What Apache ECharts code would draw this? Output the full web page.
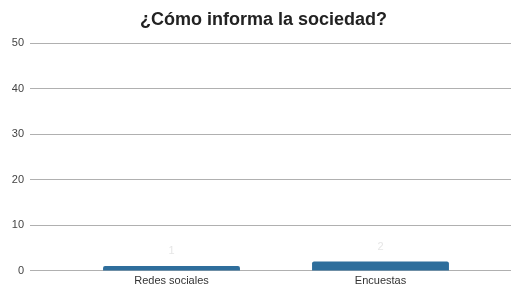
<!DOCTYPE html>
<html><head><meta charset="utf-8">
<script src="https://cdn.jsdelivr.net/npm/echarts@6/dist/echarts.min.js"></script>
<style>html,body{margin:0;padding:0;background:#fff}#c{width:511px;height:284px}</style>
</head><body><div id="c"></div>
<script>
const categories = ['Redes sociales', 'Encuestas'];
const values = [1, 2];
const yTicks = [0, 10, 20, 30, 40, 50];

const chart = echarts.init(document.getElementById('c'), null, {renderer: 'canvas'});
chart.setOption({
  animation: false,
  backgroundColor: '#fff',
  title: {
    text: '¿Cómo informa la sociedad?',
    left: 135, top: 6,
    textStyle: {fontFamily: 'Liberation Sans', fontSize: 18, fontWeight: 'bold', color: '#222'}
  },
  grid: [
    {left: 30, right: 0, top: 43, bottom: 13.5, outerBoundsMode: 'none', containLabel: false},
    {left: 67, right: 26, top: 43, bottom: 13.5, outerBoundsMode: 'none', containLabel: false}
  ],
  xAxis: [
    {gridIndex: 0, type: 'category', data: categories, show: false},
    {gridIndex: 1, type: 'category', data: categories,
     axisLine: {show: false}, axisTick: {show: false},
     axisLabel: {fontFamily: 'Liberation Sans', fontSize: 11, color: '#333', margin: 5}}
  ],
  yAxis: [
    {gridIndex: 0, type: 'value', min: yTicks[0], max: yTicks[yTicks.length - 1], interval: 10,
     axisLine: {show: false}, axisTick: {show: false},
     axisLabel: {fontFamily: 'Liberation Sans', fontSize: 11, color: '#444', margin: 6},
     splitLine: {lineStyle: {color: '#b0b0b0', width: 1}}},
    {gridIndex: 1, type: 'value', min: yTicks[0], max: yTicks[yTicks.length - 1], interval: 10, show: false}
  ],
  series: [
    {type: 'bar', xAxisIndex: 1, yAxisIndex: 1, data: values, barWidth: '65.5%',
     itemStyle: {color: '#2e6e9c', borderRadius: [2, 2, 0, 0]},
     label: {show: true, position: 'top', distance: 9, color: '#e6e6e6',
             fontFamily: 'Liberation Sans', fontSize: 11}}
  ]
});
</script></body></html>
